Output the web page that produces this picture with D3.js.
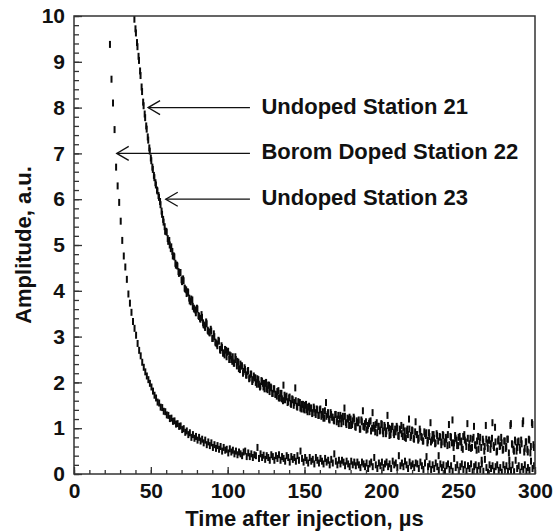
<!DOCTYPE html>
<html>
<head>
<meta charset="utf-8">
<script src="https://cdn.jsdelivr.net/npm/d3@7"></script>
<style>
  body { margin: 0; background: #fff; }
  text { font-family: "Liberation Sans", Arial, sans-serif; font-weight: bold; fill: #111; }
</style>
</head>
<body>
<div id="chart"></div>
<script>
// axis ticks
const xTicks = [0, 50, 100, 150, 200, 250, 300];
const yTicks = [0, 1, 2, 3, 4, 5, 6, 7, 8, 9, 10];

// samples are 1 µs apart
const sampleStep = 1;

// Borom doped station 22 (left curve), first sample at 23.4 µs
const boron22Start = 23.4;
const boron22 = [
  9.38, 8.62, 8.1, 7.52, 6.7, 6.29, 5.93, 5.52, 5.1, 4.76,
  4.52, 4.25, 3.93, 3.73, 3.53, 3.33, 3.18, 3.03, 2.85, 2.7,
  2.58, 2.44, 2.33, 2.23, 2.14, 2.06, 1.98, 1.9, 1.81, 1.72,
  1.66, 1.57, 1.55, 1.46, 1.45, 1.37, 1.36, 1.29, 1.28, 1.21,
  1.22, 1.15, 1.16, 1.09, 1.1, 1.04, 1.05, 0.97, 0.99, 0.91,
  0.94, 0.86, 0.9, 0.8, 0.86, 0.78, 0.82, 0.74, 0.8, 0.72,
  0.76, 0.68, 0.74, 0.64, 0.7, 0.62, 0.68, 0.58, 0.64, 0.56,
  0.62, 0.54, 0.6, 0.5, 0.58, 0.52, 0.54, 0.46, 0.55, 0.48,
  0.52, 0.44, 0.5, 0.42, 0.48, 0.44, 0.4, 0.48, 0.5, 0.38,
  0.46, 0.38, 0.44, 0.36, 0.42, 0.4, 0.58, 0.34, 0.44, 0.36,
  0.41, 0.32, 0.4, 0.36, 0.3, 0.42, 0.38, 0.3, 0.4, 0.34,
  0.42, 0.3, 0.38, 0.34, 0.28, 0.4, 0.36, 0.26, 0.38, 0.32,
  0.36, 0.28, 0.4, 0.3, 0.5, 0.34, 0.26, 0.36, 0.3, 0.24,
  0.36, 0.28, 0.32, 0.22, 0.36, 0.3, 0.24, 0.34, 0.28, 0.22,
  0.34, 0.26, 0.3, 0.2, 0.32, 0.24, 0.44, 0.28, 0.2, 0.3,
  0.22, 0.3, 0.26, 0.18, 0.28, 0.22, 0.16, 0.28, 0.2, 0.26,
  0.18, 0.26, 0.2, 0.14, 0.26, 0.22, 0.16, 0.24, 0.12, 0.22,
  0.26, 0.16, 0.36, 0.2, 0.12, 0.24, 0.18, 0.26, 0.14, 0.22,
  0.26, 0.16, 0.22, 0.12, 0.28, 0.2, 0.24, 0.14, 0.4, 0.18,
  0.24, 0.16, 0.28, 0.2, 0.12, 0.26, 0.18, 0.22, 0.14, 0.24,
  0.22, 0.12, 0.26, 0.18, 0.1, 0.24, 0.38, 0.16, 0.22, 0.1,
  0.2, 0.12, 0.24, 0.16, 0.08, 0.22, 0.14, 0.2, 0.06, 0.18,
  0.22, 0.1, 0.18, 0.06, 0.34, 0.14, 0.2, 0.08, 0.16, 0.22,
  0.1, 0.2, 0.06, 0.18, 0.12, 0.22, 0.05, 0.16, 0.2, 0.08,
  0.18, 0.1, 0.22, 0.06, 0.32, 0.14, 0.04, 0.2, 0.12, 0.18,
  0.06, 0.16, 0.2, 0.08, 0.14, 0.04, 0.2, 0.1, 0.18, 0.06,
  0.16, 0.08, 0.2, 0.05, 0.3, 0.12, 0.18, 0.04, 0.16, 0.1,
  0.2, 0.06, 0.14, 0.08, 0.28, 0.12, 0.18
];

// Undoped station 21 (right curve), first sample at 40 µs
const undoped21Start = 40;
const undoped21 = [
  9.72, 9.42, 9.12, 8.8, 8.45, 8.12, 7.86, 7.6, 7.36, 7.12,
  6.9, 6.7, 6.52, 6.36, 6.2, 6.08, 5.95, 5.74, 5.56, 5.4,
  5.3, 5.14, 5.1, 4.92, 4.86, 4.76, 4.6, 4.56, 4.42, 4.4,
  4.24, 4.26, 4.06, 4.02, 3.98, 3.84, 3.76, 3.8, 3.62, 3.58,
  3.62, 3.46, 3.4, 3.48, 3.3, 3.24, 3.32, 3.14, 3.1, 3.16,
  2.96, 3.06, 2.88, 2.84, 2.92, 2.72, 2.8, 2.64, 2.6, 2.7,
  2.66, 2.5, 2.58, 2.46, 2.42, 2.56, 2.36, 2.44, 2.28, 2.36,
  2.2, 2.32, 2.16, 2.24, 2.08, 2.18, 2.02, 2.14, 2.1, 1.96,
  2.06, 1.9, 2.04, 1.98, 1.86, 2.0, 1.84, 1.94, 1.9, 1.76,
  1.86, 1.74, 1.7, 1.82, 1.66, 1.76, 1.6, 1.72, 1.68, 1.56,
  1.66, 1.54, 1.64, 1.5, 1.88, 1.48, 1.58, 1.56, 1.42, 1.52,
  1.4, 1.52, 1.36, 1.48, 1.44, 1.32, 1.46, 1.34, 1.42, 1.28,
  1.4, 1.26, 1.36, 1.22, 1.56, 1.3, 1.2, 1.34, 1.24, 1.18,
  1.3, 1.14, 1.28, 1.2, 1.1, 1.26, 1.44, 1.12, 1.22, 1.06,
  1.2, 1.08, 1.24, 1.04, 1.16, 1.12, 0.98, 1.18, 1.38, 1.02,
  1.14, 0.98, 1.1, 1.16, 1.0, 1.06, 0.92, 1.12, 1.04, 0.94,
  1.1, 0.94, 1.06, 0.88, 1.28, 1.0, 0.86, 1.04, 0.9, 0.98,
  1.04, 0.84, 0.98, 1.06, 0.82, 0.94, 0.78, 0.98, 1.2, 0.8,
  0.96, 0.78, 0.92, 0.86, 0.74, 0.98, 0.82, 0.72, 0.92, 0.84,
  0.68, 0.9, 1.12, 0.74, 0.86, 0.66, 0.88, 0.72, 0.82, 0.64,
  0.86, 0.7, 0.8, 0.62, 1.08, 0.82, 0.68, 0.58, 0.84, 0.74,
  0.62, 0.82, 0.72, 0.54, 0.86, 0.7, 1.1, 0.58, 0.78, 0.58,
  0.8, 0.64, 0.52, 0.82, 0.7, 0.58, 0.76, 0.5, 1.06, 0.68,
  0.74, 0.54, 0.78, 0.62, 1.02, 0.48, 0.72, 0.6, 0.8, 0.52,
  0.72, 0.56, 0.76, 0.46, 1.06, 0.66, 0.54, 0.74, 0.5, 0.7,
  0.58, 0.74, 1.1, 0.48, 0.7, 0.54, 0.76, 0.46, 1.12, 0.64,
  0.58
];

// Undoped station 23 (overlaps station 21), first sample at 39.3 µs
const undoped23Start = 39.3;
const undoped23 = [
  9.93, 9.63, 9.33, 9.03, 8.7, 8.35, 8.04, 7.78, 7.53, 7.29,
  7.05, 6.84, 6.65, 6.47, 6.31, 6.18, 6.04, 5.88, 5.67, 5.5,
  5.3, 5.28, 5.08, 5.0, 4.96, 4.76, 4.74, 4.56, 4.54, 4.38,
  4.4, 4.2, 4.22, 4.04, 3.94, 3.96, 3.78, 3.82, 3.66, 3.6,
  3.52, 3.6, 3.44, 3.38, 3.42, 3.26, 3.2, 3.28, 3.12, 3.08,
  3.12, 2.96, 3.0, 2.86, 2.8, 2.9, 2.7, 2.76, 2.64, 2.72,
  2.56, 2.68, 2.6, 2.5, 2.56, 2.42, 2.5, 2.46, 2.3, 2.4,
  2.36, 2.24, 2.28, 2.16, 2.26, 2.1, 2.18, 2.06, 2.1, 2.0,
  2.08, 1.96, 1.92, 2.02, 1.9, 1.98, 1.86, 1.94, 1.8, 1.88,
  1.76, 1.86, 1.74, 1.8, 1.66, 1.76, 1.64, 1.94, 1.62, 1.7,
  1.58, 1.68, 1.52, 1.62, 1.56, 1.6, 1.46, 1.56, 1.44, 1.52,
  1.42, 1.5, 1.4, 1.46, 1.36, 1.44, 1.34, 1.42, 1.3, 1.4,
  1.28, 1.42, 1.3, 1.22, 1.38, 1.26, 1.34, 1.18, 1.3, 1.24,
  1.16, 1.3, 1.2, 1.1, 1.28, 1.22, 1.14, 1.26, 1.08, 1.2,
  1.24, 1.06, 1.16, 1.2, 1.02, 1.12, 1.18, 0.98, 1.14, 1.04,
  1.1, 0.96, 1.06, 1.14, 0.94, 1.34, 1.0, 1.08, 0.9, 1.04,
  0.96, 1.08, 0.88, 1.02, 0.94, 1.06, 0.84, 0.98, 1.04, 0.86,
  0.92, 1.0, 0.82, 0.96, 0.88, 1.02, 0.8, 0.94, 0.86, 0.98,
  0.84, 0.94, 0.76, 1.14, 0.86, 0.78, 0.92, 0.8, 0.72, 0.88,
  0.9, 0.74, 0.82, 0.7, 0.86, 0.78, 0.68, 0.84, 0.4, 0.8,
  0.7, 0.84, 0.66, 0.76, 0.86, 0.64, 0.8, 1.18, 0.68, 0.78,
  0.62, 0.8, 0.7, 0.58, 0.82, 0.74, 0.6, 0.78, 0.66, 0.56,
  0.76, 1.04, 0.62, 0.72, 0.54, 0.8, 0.3, 0.7, 0.6, 0.76,
  0.56, 0.74, 0.66, 1.12, 0.58, 0.7, 0.5, 0.76, 0.62, 0.68,
  0.54, 0.72, 0.6, 0.76, 0.3, 1.1, 0.64, 0.5, 0.7, 0.58,
  0.72, 0.52, 0.66, 1.16, 0.56, 0.7, 0.48, 0.74, 0.6, 1.08,
  0.58
];

// annotations: label text and where each arrow points (time µs, amplitude)
const labels = ["Undoped Station 21", "Borom Doped Station 22", "Undoped Station 23"];
const arrowTipTime = [48.2, 27.8, 59.7];
const arrowTipAmp = [8, 7, 6];
const arrowTailTime = 114.5;
const labelTime = 122;

const width = 559, height = 531;
const margin = { top: 16, right: 24, bottom: 57, left: 74 };

const svg = d3.select("#chart").append("svg")
  .attr("width", width)
  .attr("height", height);

const x = d3.scaleLinear().domain([0, 300]).range([margin.left, width - margin.right]);
const y = d3.scaleLinear().domain([0, 10]).range([height - margin.bottom, margin.top]);

svg.append("clipPath").attr("id", "plot-clip")
  .append("rect")
  .attr("x", margin.left).attr("y", margin.top)
  .attr("width", x(300) - x(0)).attr("height", y(0) - y(10));

// turn a value list into points
function toPoints(values, start) {
  return values.map((v, i) => ({ t: start + i * sampleStep, a: v }));
}

const series = [
  toPoints(boron22, boron22Start),
  toPoints(undoped21, undoped21Start),
  toPoints(undoped23, undoped23Start)
];

// each sample drawn as a short vertical dash
const dashHalf = 3.5;
const traces = svg.append("g").attr("clip-path", "url(#plot-clip)");
series.forEach(pts => {
  traces.append("g")
    .selectAll("line")
    .data(pts)
    .join("line")
    .attr("x1", d => x(d.t)).attr("x2", d => x(d.t))
    .attr("y1", d => y(d.a) - dashHalf).attr("y2", d => y(d.a) + dashHalf)
    .attr("stroke", "#0a0a0a")
    .attr("stroke-width", 2);
});

// frame
svg.append("rect")
  .attr("x", x(0)).attr("y", y(10))
  .attr("width", x(300) - x(0)).attr("height", y(0) - y(10))
  .attr("fill", "none").attr("stroke", "#333").attr("stroke-width", 1.5);

// axes with inward ticks
const xMinor = d3.range(0, 301, 10);
const yMinor = d3.range(0, 10.01, 0.2);

const xAxisG = svg.append("g").attr("transform", `translate(0,${y(0)})`);
xAxisG.call(d3.axisBottom(x).tickValues(xMinor).tickSize(-4).tickFormat(""));
xAxisG.call(g => g.append("g").call(d3.axisBottom(x).tickValues(xTicks).tickSize(-7).tickPadding(9).tickFormat(d3.format("d"))));

const yAxisG = svg.append("g").attr("transform", `translate(${x(0)},0)`);
yAxisG.call(d3.axisLeft(y).tickValues(yMinor).tickSize(-5).tickFormat(""));
yAxisG.call(g => g.append("g").call(d3.axisLeft(y).tickValues(yTicks).tickSize(-8).tickPadding(9).tickFormat(d3.format("d"))));

svg.selectAll(".domain").remove();
svg.selectAll(".tick line").attr("stroke", "#333").attr("stroke-width", 1.3);
svg.selectAll(".tick text")
  .style("font-family", '"Liberation Sans", Arial, sans-serif')
  .style("font-weight", "bold")
  .style("font-size", "21px")
  .attr("fill", "#111");

// axis titles
svg.append("text")
  .attr("x", (x(0) + x(300)) / 2).attr("y", 526)
  .attr("text-anchor", "middle")
  .style("font-size", "22px")
  .text("Time after injection, µs");

svg.append("text")
  .attr("transform", `translate(31,${(y(0) + y(10)) / 2}) rotate(-90)`)
  .attr("text-anchor", "middle")
  .style("font-size", "22px")
  .text("Amplitude, a.u.");

// arrows and labels
const notes = svg.append("g");
labels.forEach((label, i) => {
  const tipX = x(arrowTipTime[i]), tipY = y(arrowTipAmp[i]);
  notes.append("line")
    .attr("x1", tipX).attr("y1", tipY)
    .attr("x2", x(arrowTailTime)).attr("y2", tipY)
    .attr("stroke", "#111").attr("stroke-width", 1.3);
  notes.append("path")
    .attr("d", `M${tipX + 12},${tipY - 7}L${tipX},${tipY}L${tipX + 12},${tipY + 7}`)
    .attr("fill", "none").attr("stroke", "#111").attr("stroke-width", 1.3);
  notes.append("text")
    .attr("x", x(labelTime)).attr("y", tipY + 6)
    .style("font-size", "22px")
    .text(label);
});
</script>
</body>
</html>
